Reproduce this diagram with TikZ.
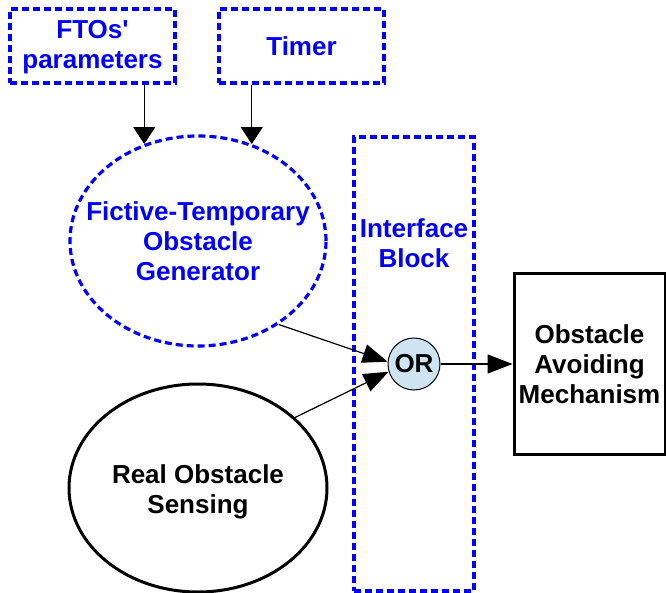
\documentclass[tikz,border=0pt]{standalone}
\usepackage{fontspec}
\setmainfont{Liberation Sans}[Ligatures=TeXOff]
\usetikzlibrary{arrows.meta,positioning,shapes.geometric}

\definecolor{orfill}{RGB}{206,228,242}

\tikzset{
  bluebox/.style={draw=blue,line width=3.2pt,dash pattern=on 7pt off 4pt,
    text=blue,align=center,inner sep=0pt},
  blackbox/.style={draw=black,line width=3pt,align=center,inner sep=0pt},
  feed/.style={draw=black,line width=1.2pt,-{Triangle[length=17pt,width=22pt]}},
  signal/.style={draw=black,line width=1.2pt,-{Triangle[length=25pt,width=19pt]}}
}

\begin{document}
\begin{tikzpicture}[x=1pt,y=-1pt,font=\fontsize{26}{30}\selectfont\bfseries]
  \useasboundingbox (0,0) rectangle (666,593);

  % ---- 上段：入力ブロック ----
  \node[bluebox,minimum width=165,minimum height=74,text depth=3pt] (ftos) at (92.5,46) {FTOs'\\parameters};
  \node[bluebox,minimum width=165,minimum height=74] (timer) at (301.5,46) {Timer};

  % ---- 左側：二つの楕円（文字は楕円の大きさに影響しないよう中央ラベルで置く） ----
  \node[bluebox,ellipse,minimum width=256,minimum height=210,
    label={[text=blue,align=center]center:Fictive-Temporary\\Obstacle\\Generator}]
    (fto) at (198,241) {};
  \node[blackbox,ellipse,minimum width=258,minimum height=208,
    label={[align=center,yshift=-4pt]center:Real Obstacle\\Sensing}]
    (real) at (198,488) {};

  % ---- 中央：インターフェース（枠とラベルは別ノード） ----
  \node[bluebox,minimum width=120,minimum height=454] (iface) at (414,364) {};
  \node[text=blue,align=center] (ifacelabel) at (414,243) {Interface\\Block};
  \node[circle,draw=black,line width=1pt,fill=orfill,minimum size=52,inner sep=0pt]
    (orgate) at (414,364) {OR};

  % ---- 右側：回避機構 ----
  \node[blackbox,minimum width=151,minimum height=180] (avoid) at (589.5,364)
    {Obstacle\\Avoiding\\Mechanism};

  % 入力ブロックから生成器への矢印（真下へ）
  \draw[feed] (ftos.south -| fto.119) -- (fto.119);
  \draw[feed] (timer.south -| fto.61) -- (fto.61);
  % 二つの楕円からORへ，ORから回避機構へ
  \draw[signal] (fto.-46) -- (orgate.175);
  \draw[signal] (real.36) -- (orgate.197);
  \draw[signal] (orgate.east) -- (avoid.west);
\end{tikzpicture}
\end{document}
